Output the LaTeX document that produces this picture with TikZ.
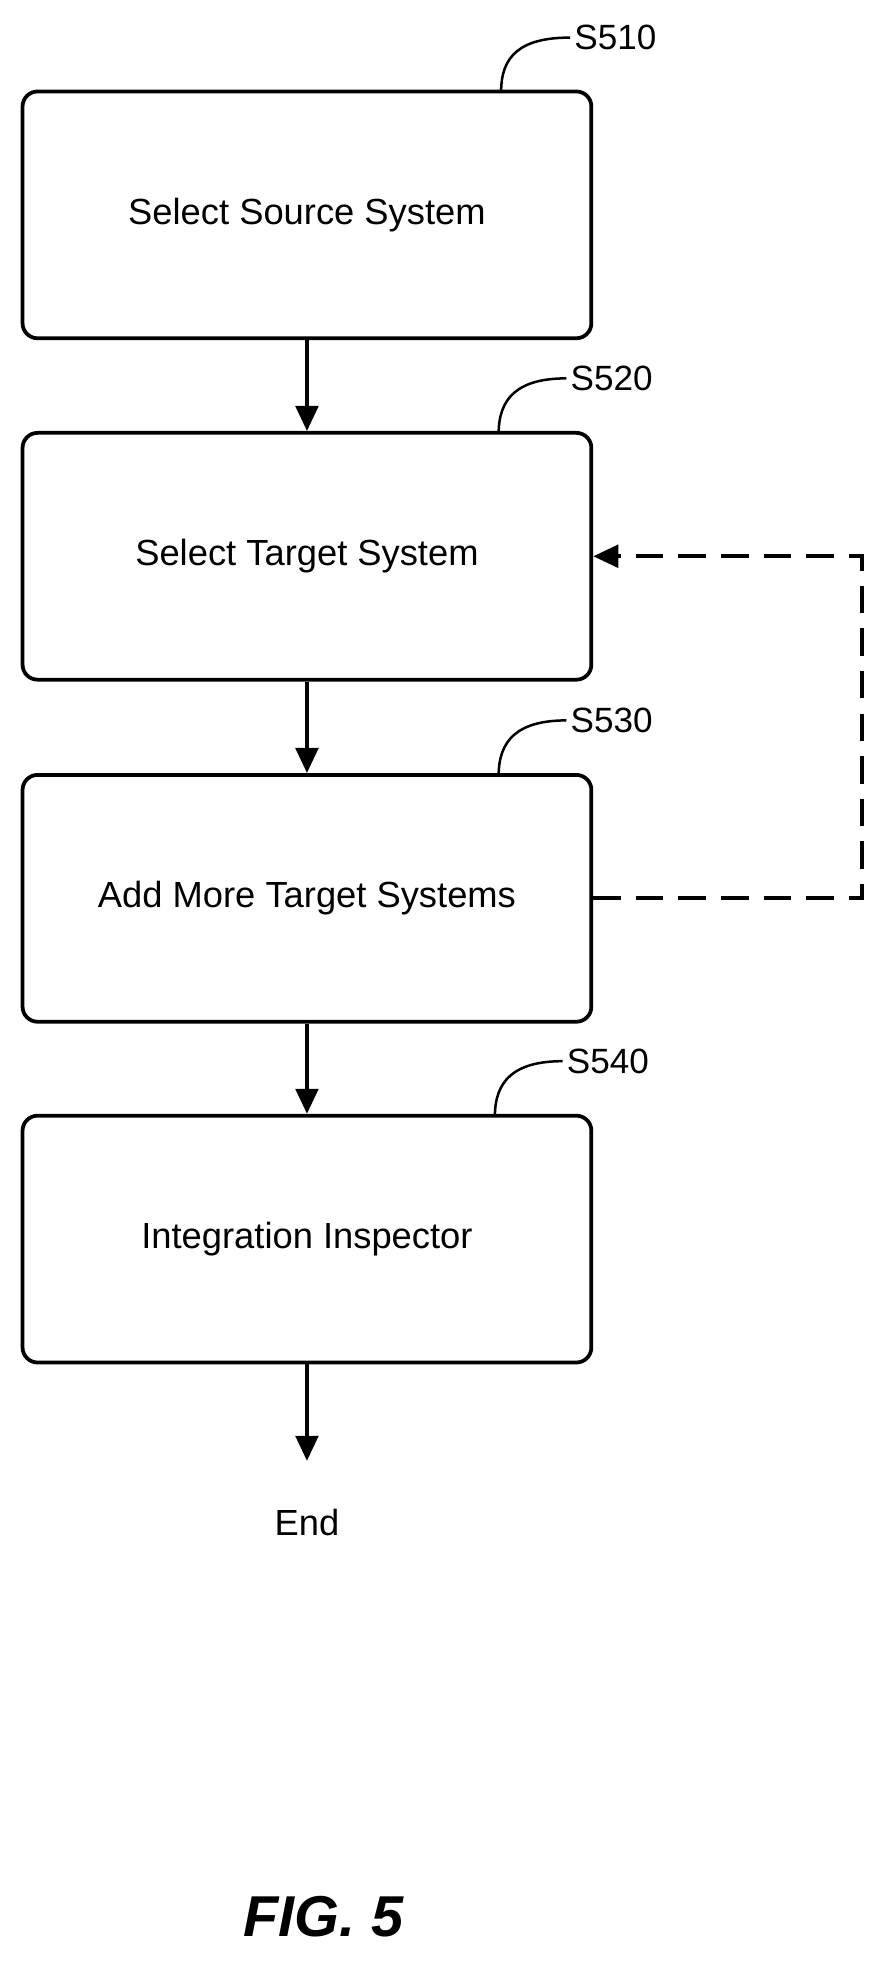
\documentclass[tikz,border=0pt]{standalone}
\usepackage{fontspec}
\setmainfont{Liberation Sans}
\usetikzlibrary{arrows.meta}
\begin{document}
\begin{tikzpicture}[x=1pt,y=-1pt,
  box/.style={draw,line width=3pt,rounded corners=12pt,minimum width=454pt,minimum height=197pt,font=\fontsize{29}{32}\selectfont},
  lab/.style={font=\fontsize{28}{30}\selectfont,anchor=west},
  arr/.style={line width=3pt,-{Triangle[length=20pt,width=18pt]}},
  lead/.style={line width=2pt}]
\useasboundingbox (0,0) rectangle (710,1570);
\node[box] (b1) at (245,171.5) {Select Source System};
\node[box] (b2) at (245,444) {Select Target System};
\node[box] (b3) at (245,717) {Add More Target Systems};
\node[box] (b4) at (245,989) {Integration Inspector};
\node[font=\fontsize{29}{32}\selectfont] (end) at (245,1215) {End};
\node[lab] (l1) at (455,30) {S510};
\node[lab] (l2) at (452,302) {S520};
\node[lab] (l3) at (452,575) {S530};
\node[lab] (l4) at (449,847) {S540};
\draw[lead] (400,73) .. controls (400,45) and (415,30) .. (l1.west);
\draw[lead] (398,346) .. controls (398,318) and (413,302) .. (l2.west);
\draw[lead] (398,619) .. controls (398,591) and (413,575) .. (l3.west);
\draw[lead] (395,891) .. controls (395,863) and (410,847) .. (l4.west);
\draw[arr] (b1) -- (b2);
\draw[arr] (b2) -- (b3);
\draw[arr] (b3) -- (b4);
\draw[arr] (b4.south) -- (245,1166);
\coordinate (c1) at (688,717);
\coordinate (c2) at (688,444);
\draw[arr,dash pattern=on 22pt off 12pt] (b3.east) -- (c1) -- (c2) -- (b2.east);
\node[font=\fontsize{46}{50}\selectfont\bfseries\itshape] (fig) at (258,1530) {FIG. 5};
\end{tikzpicture}
\end{document}
